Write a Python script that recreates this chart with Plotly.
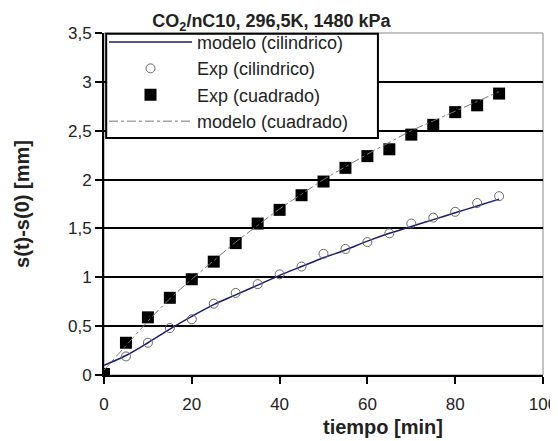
import plotly.graph_objects as go

t_exp = [0, 5, 10, 15, 20, 25, 30, 35, 40, 45, 50, 55, 60, 65, 70, 75, 80, 85, 90]
exp_cil = [0.0, 0.19, 0.33, 0.48, 0.57, 0.73, 0.84, 0.93, 1.03, 1.11, 1.24, 1.29, 1.36, 1.45, 1.55, 1.61, 1.67, 1.76, 1.83]
exp_cua = [0.01, 0.33, 0.59, 0.79, 0.98, 1.16, 1.35, 1.55, 1.69, 1.84, 1.98, 2.12, 2.24, 2.31, 2.46, 2.56, 2.69, 2.76, 2.88]

t_mod = [0, 5, 10, 15, 20, 25, 30, 35, 40, 45, 50, 55, 60, 65, 70, 75, 80, 85, 90]
mod_cil = [0.10, 0.20, 0.33, 0.47, 0.60, 0.72, 0.82, 0.92, 1.02, 1.11, 1.20, 1.28, 1.37, 1.45, 1.52, 1.59, 1.66, 1.73, 1.80]
mod_cua = [0.05, 0.30, 0.55, 0.78, 0.98, 1.17, 1.36, 1.53, 1.70, 1.85, 2.00, 2.13, 2.26, 2.38, 2.50, 2.60, 2.70, 2.80, 2.90]

y_ticks = [0, 0.5, 1, 1.5, 2, 2.5, 3, 3.5]
y_labels = ["0", "0,5", "1", "1,5", "2", "2,5", "3", "3,5"]
x_ticks = [0, 20, 40, 60, 80, 100]

FONT = "Liberation Sans, Arial, sans-serif"
TXT = "#222222"

fig = go.Figure()
fig.add_trace(go.Scatter(x=t_mod, y=mod_cil, mode="lines", name="modelo (cilindrico)", legendgroup="a",
                         line=dict(color="#1c1c6e", width=1.5), line_shape="spline"))
fig.add_trace(go.Scatter(x=t_exp, y=exp_cil, mode="markers", name="Exp (cilindrico)", legendgroup="b",
                         marker=dict(symbol="circle-open", size=9, color="#666666", line=dict(width=1))))
fig.add_trace(go.Scatter(x=t_exp, y=exp_cua, mode="markers", name="Exp (cuadrado)", legendgroup="c",
                         marker=dict(symbol="square", size=12, color="black")))
fig.add_trace(go.Scatter(x=t_mod, y=mod_cua, mode="lines", name="modelo (cuadrado)", legendgroup="d",
                         line=dict(color="#777777", width=1, dash="dashdot"), line_shape="spline"))

fig.update_layout(
    width=550, height=433,
    margin=dict(l=96, r=15, t=25, b=66),
    paper_bgcolor="white", plot_bgcolor="white",
    font=dict(family=FONT, size=17, color=TXT),
    title=dict(text="<b>CO<sub>2</sub>/nC10, 296,5K, 1480 kPa</b>", x=0.479, xanchor="center",
               y=0.97, yanchor="middle", font=dict(size=18, color=TXT)),
    showlegend=True,
    legend=dict(x=0, y=1.027, xanchor="left", yanchor="top", bgcolor="rgba(0,0,0,0)",
                borderwidth=0, font=dict(size=18, color=TXT),
                itemwidth=83, tracegroupgap=0),
    annotations=[
        dict(text="<b>tiempo [min]</b>", xref="paper", yref="paper", x=0.636, y=-0.152,
             xanchor="center", yanchor="middle", showarrow=False, font=dict(size=20, color=TXT)),
        dict(text="<b>s(t)-s(0) [mm]</b>", xref="paper", yref="paper", x=-0.187, y=0.5,
             xanchor="center", yanchor="middle", textangle=-90, showarrow=False,
             font=dict(size=20, color=TXT)),
    ],
)
fig.update_xaxes(range=[0, 100], tickvals=x_ticks, ticks="outside", ticklen=7, tickwidth=1.5,
                 tickcolor="black", showgrid=False, zeroline=False,
                 showline=True, linecolor="black", linewidth=2, mirror=False,
                 ticklabelstandoff=6, automargin=False, tickfont=dict(size=17))
fig.update_yaxes(range=[0, 3.5], tickvals=y_ticks, ticktext=y_labels, ticks="outside", ticklen=7,
                 tickwidth=1.5, tickcolor="black", showgrid=True, gridcolor="black", gridwidth=1.5,
                 zeroline=False, showline=True, linecolor="black", linewidth=2, automargin=False,
                 tickfont=dict(size=17))
# grey top/right frame
fig.add_shape(type="rect", xref="paper", yref="paper", x0=0, y0=0, x1=1, y1=1,
              line=dict(color="#888888", width=1), layer="below")
# legend box
fig.add_shape(type="rect", xref="paper", yref="paper", x0=0.005, y0=0.693, x1=0.624, y1=0.998,
              line=dict(color="black", width=2), fillcolor="white", layer="above")

fig.write_html("out.html")
